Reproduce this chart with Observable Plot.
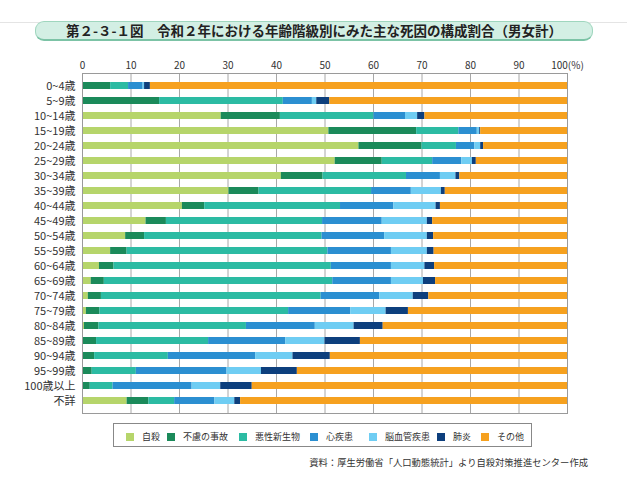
<!DOCTYPE html>
<html>
<head>
<meta charset="utf-8">
<script src="https://cdn.jsdelivr.net/npm/d3@7"></script>
<script src="https://cdn.jsdelivr.net/npm/@observablehq/plot@0.6"></script>
<style>
  html, body { margin: 0; padding: 0; background: #fff; }
  body { width: 627px; height: 480px; position: relative; overflow: hidden; font-family: "Noto Sans CJK JP", "Noto Sans", sans-serif; }
  #topline { position: absolute; left: 0; top: 22px; width: 627px; height: 1px; background: #e4e4e4; }
  #title { position: absolute; left: 35px; top: 21px; width: 556px; height: 17px; border-radius: 9px;
           background: #d3efe4; border: 1px solid #9fd6be; border-bottom: 2px solid #7cc3a6;
           font-weight: 700; font-size: 13.5px; line-height: 17px; color: #222; text-align: center; }
  #chart { position: absolute; left: 0; top: 48px; }
  #legend { position: absolute; left: 113px; top: 423px; width: 417px; height: 22px; border: 1px solid #888;
            display: flex; align-items: center; font-size: 9px; color: #333; }
  .item { display: flex; align-items: center; position: absolute; top: 6px; }
  .sw { width: 8px; height: 8px; margin-right: 8px; }
  #caption { position: absolute; right: 39px; top: 455px; font-size: 9.3px; color: #333; white-space: nowrap; }
</style>
</head>
<body>
<div id="topline"></div>
<div id="title">第２-３-１図　令和２年における年齢階級別にみた主な死因の構成割合（男女計）</div>
<div id="chart"></div>
<div id="legend"></div>
<div id="caption">資料：厚生労働省「人口動態統計」より自殺対策推進センター作成</div>
<script>
const ages = ["0~4歳","5~9歳","10~14歳","15~19歳","20~24歳","25~29歳","30~34歳","35~39歳","40~44歳","45~49歳",
  "50~54歳","55~59歳","60~64歳","65~69歳","70~74歳","75~79歳","80~84歳","85~89歳","90~94歳","95~99歳","100歳以上","不詳"];
const causes = ["自殺","不慮の事故","悪性新生物","心疾患","脳血管疾患","肺炎","その他"];
const colors = ["#b6d56b","#1b8a5a","#2cbba3","#2b8fd1","#6fcdf3","#0d3f7d","#f6a11f"];

const suicide   = [0,0,28.6,50.8,57.0,52.1,41.0,30.2,20.6,13.1,8.9,5.8,3.5,1.8,1.2,0.8,0.4,0.2,0.1,0,0,9.2];
const accident  = [5.8,15.9,12.2,18.1,13.0,9.7,8.6,6.2,4.6,4.2,3.9,3.4,3.0,2.7,2.7,2.8,3.0,2.7,2.4,2.0,1.6,4.5];
const cancer    = [3.7,25.5,19.3,8.7,7.1,10.4,17.2,23.2,28.0,32.2,36.6,41.4,44.8,47.1,45.3,38.9,30.4,23.1,15.2,9.1,4.7,5.3];
const heart     = [3.0,6.0,6.5,3.8,3.8,6.0,7.0,8.2,11.0,12.3,12.9,13.1,12.4,12.1,12.1,12.8,14.2,15.9,18.0,18.7,16.3,8.3];
const stroke    = [0.3,0.9,2.5,0.5,1.2,2.2,3.2,6.2,8.7,9.3,8.8,7.4,6.9,6.6,6.9,7.3,8.0,8.1,7.7,7.1,5.9,4.1];
const pneumonia = [1.2,2.7,1.5,0.2,0.6,0.8,0.8,0.8,0.9,1.1,1.3,1.4,2.0,2.5,3.2,4.6,6.0,7.3,7.7,7.4,6.5,1.2];
const other     = [86.0,49.0,29.4,17.9,17.3,18.8,22.2,25.2,26.2,27.8,27.6,27.5,27.4,27.2,28.6,32.8,38.0,42.7,48.9,55.7,65.0,67.4];
const xTicks = [0,10,20,30,40,50,60,70,80,90,100];

const series = [suicide, accident, cancer, heart, stroke, pneumonia, other];
const rows = [];
ages.forEach((age, i) => {
  causes.forEach((c, j) => rows.push({age, cause: c, value: series[j][i]}));
});

const chart = Plot.plot({
  width: 627,
  height: 368,
  marginTop: 25,
  marginBottom: 3,
  marginLeft: 82,
  marginRight: 60,
  style: {fontFamily: '"Noto Sans CJK JP", "Noto Sans", sans-serif', fontSize: "11px", color: "#333", background: "transparent"},
  x: {domain: [0, 100]},
  y: {domain: ages, paddingInner: 0.56, paddingOuter: 0.33},
  color: {domain: causes, range: colors},
  marks: [
    Plot.gridX([10,20,30,40,50,60,70,80,90], {stroke: "#a8a8a8", strokeOpacity: 1}),
    Plot.barX(rows, Plot.stackX({x: "value", y: "age", fill: "cause", order: causes})),
    Plot.frame({stroke: "#9a9a9a"}),
    Plot.axisX(xTicks, {anchor: "top", tickSize: 0, tickPadding: 5, label: null,
      tickFormat: d => d === 100 ? "100(%)" : String(d), fontSize: 10}),
    Plot.axisY({tickSize: 0, tickPadding: 7, label: null, fontSize: 11})
  ]
});
document.getElementById("chart").appendChild(chart);

const legend = document.getElementById("legend");
const itemX = [12, 53, 125, 196, 255, 323, 367];
causes.forEach((c, i) => {
  const it = document.createElement("div");
  it.className = "item";
  it.style.left = itemX[i] + "px";
  const sw = document.createElement("span");
  sw.className = "sw";
  sw.style.background = colors[i];
  const t = document.createElement("span");
  t.textContent = c;
  it.appendChild(sw); it.appendChild(t);
  legend.appendChild(it);
});
</script>
</body>
</html>
